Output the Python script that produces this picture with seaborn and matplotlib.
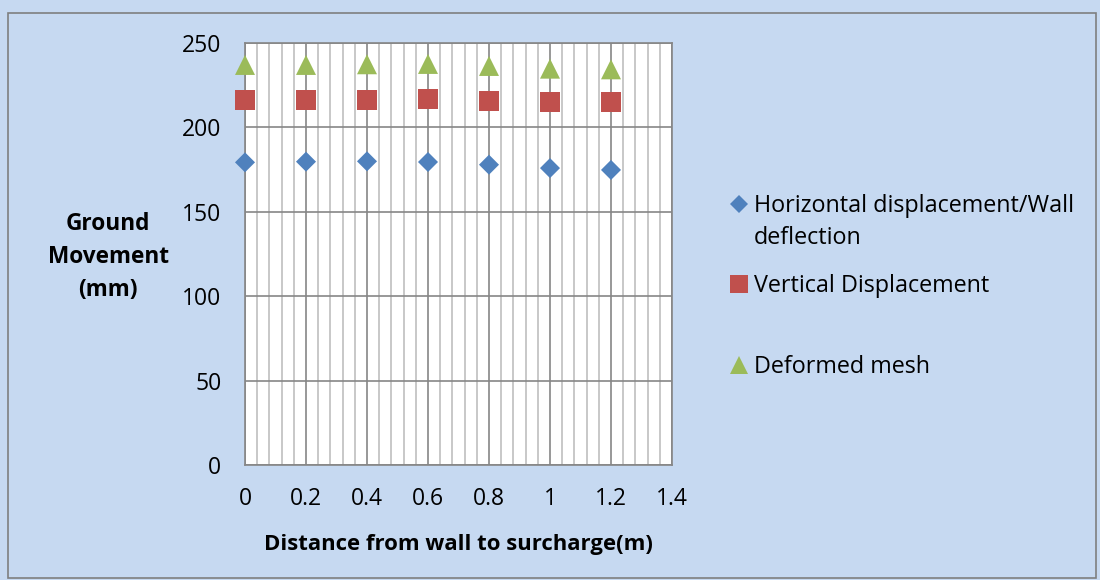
import numpy as np
import pandas as pd
import matplotlib
matplotlib.use("Agg")
import matplotlib.pyplot as plt
from matplotlib.lines import Line2D
from matplotlib.patches import Rectangle
from matplotlib.ticker import MultipleLocator
import seaborn as sns

distance = [0, 0.2, 0.4, 0.6, 0.8, 1.0, 1.2]
horizontal = [179.3, 179.7, 179.9, 179.5, 177.9, 175.9, 174.8]
vertical = [216.1, 216.1, 216.2, 216.6, 215.8, 215.0, 215.0]
deformed = [237.0, 237.0, 237.4, 237.6, 236.4, 234.8, 234.4]
series_names = ["Horizontal displacement/Wall\ndeflection", "Vertical Displacement", "Deformed mesh"]
x_ticks = [0, 0.2, 0.4, 0.6, 0.8, 1, 1.2, 1.4]
x_tick_labels = ["0", "0.2", "0.4", "0.6", "0.8", "1", "1.2", "1.4"]
y_ticks = [0, 50, 100, 150, 200, 250]

sns.set_theme(style="white")
plt.rcParams['font.family'] = ['Open Sans', 'DejaVu Sans']
plt.rcParams['text.color'] = 'black'

W, H = 1100, 580
bg = "#C6D9F1"
colors = ["#4F81BD", "#C0504D", "#9BBB59"]
markers = ["D", "s", "^"]
sizes = [104, 207, 207]

def fx(px):
    return px / W

def fy(py):
    return 1 - py / H

fig = plt.figure(figsize=(11, 5.8), dpi=100)
fig.patch.set_facecolor(bg)
fig.add_artist(Rectangle((fx(8), fy(578)), fx(1088), 565 / H, transform=fig.transFigure,
                         fill=False, edgecolor="#7F7F7F", linewidth=1.2))

ax = fig.add_axes([fx(245), fy(465), fx(672 - 245), (465 - 43) / H])
ax.set_facecolor("white")

data = [horizontal, vertical, deformed]
for name, vals, c, m, s in zip(series_names, data, colors, markers, sizes):
    df = pd.DataFrame({"x": distance, "y": vals})
    sns.scatterplot(data=df, x="x", y="y", ax=ax, marker=m, s=s, color=c,
                    edgecolor="none", linewidth=0, zorder=3, clip_on=False)

ax.set_xlim(0, 1.4)
ax.set_ylim(0, 250)
ax.set_xticks(x_ticks)
ax.set_xticklabels(x_tick_labels)
ax.set_yticks(y_ticks)
ax.xaxis.set_minor_locator(MultipleLocator(0.04))
ax.grid(which="major", axis="both", color="#868686", linewidth=1.2, zorder=1)
ax.grid(which="minor", axis="x", color="#BFBFBF", linewidth=1.2, zorder=1)
ax.set_axisbelow(True)
for sp in ax.spines.values():
    sp.set_color("#868686")
    sp.set_linewidth(1.2)
ax.tick_params(axis="both", which="both", length=0, labelsize=16.5, colors="black")
ax.tick_params(axis="x", pad=16)
ax.tick_params(axis="y", pad=17)
ax.set_xlabel("")
ax.set_ylabel("")

fig.text(fx(458), fy(550), "Distance from wall to surcharge(m)", ha="center", va="baseline",
         fontsize=15.9, fontweight="bold")
for line, base in zip(["Ground", "Movement", "(mm)"], [230, 263, 296]):
    fig.text(fx(108), fy(base), line, ha="center", va="baseline", fontsize=16.3, fontweight="bold")

# legend
marker_y = [204, 284, 365]
text_baselines = [[212, 244], [292], [373]]
leg_ms = [9.2, 13, 13]
for name, c, m, ms, yy, bases in zip(series_names, colors, markers, leg_ms, marker_y, text_baselines):
    fig.add_artist(Line2D([fx(739)], [fy(yy)], transform=fig.transFigure, marker=m,
                          markersize=ms, color=c, markeredgewidth=0, linestyle="none"))
    for line, base in zip(name.split("\n"), bases):
        fig.text(fx(754), fy(base), line, ha="left", va="baseline", fontsize=16.8)

fig.savefig("out.png", dpi=100, facecolor=bg)
